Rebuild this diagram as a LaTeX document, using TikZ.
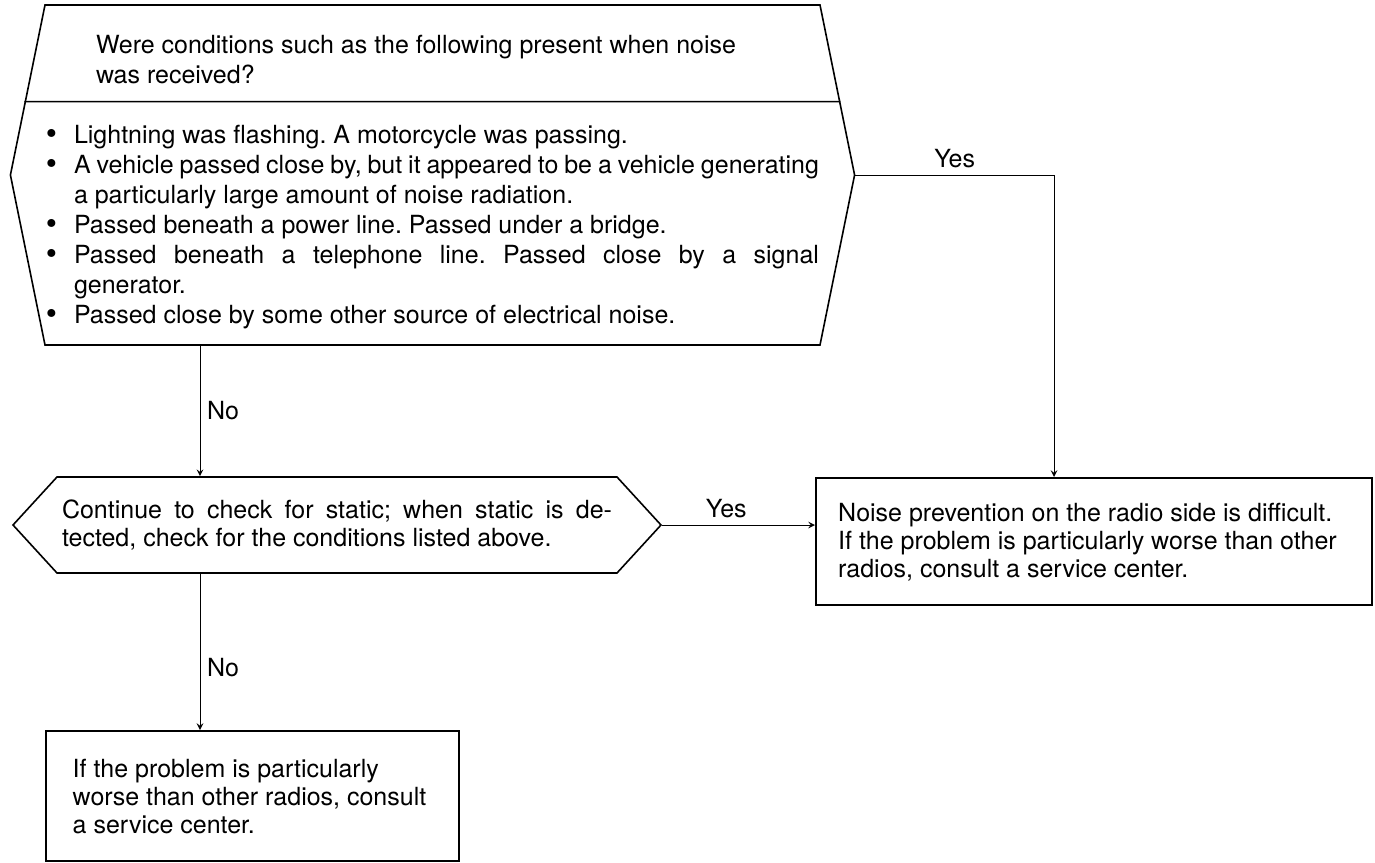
\documentclass[tikz,border=0pt]{standalone}
\usepackage{fontspec}
\setmainfont{TeX Gyre Heros}
\usetikzlibrary{shapes.symbols,arrows,calc}
\newcommand{\itembullet}{\makebox[14pt][l]{\raisebox{-0.6pt}{\fontsize{16pt}{0pt}\selectfont\textbullet}}}
\tikzstyle{decision} = [signal, signal to=east and west, draw=black, line width=0.8pt, align=flush left, inner ysep=0pt]
\tikzstyle{process} = [rectangle, draw=black, line width=1.2pt, align=flush left, anchor=north west, inner ysep=0pt]
\tikzstyle{arrow} = [line width=0.5pt,->,>=stealth]

\begin{document}
\begin{tikzpicture}[x=0.5pt, y=-0.5pt, every node/.style={font=\fontsize{12.5pt}{15pt}\selectfont\frenchspacing}]
    \useasboundingbox (0,0) rectangle (1375,862);

    \node (conditions) [decision, signal pointer angle=157, text width=386.5pt, inner xsep=0.5pt, minimum height=170pt] at (432.5,175) {
        \rule{0pt}{16pt}\hspace*{25pt}Were conditions such as the following present when noise\\
        \hspace*{25pt}was received?\\[15pt]
        \itembullet Lightning was flashing. A motorcycle was passing.\\
        \itembullet\makebox[372.5pt][s]{A vehicle passed close by, but it appeared to be a vehicle generating}\\
        \hspace*{14pt}a particularly large amount of noise radiation.\\
        \itembullet Passed beneath a power line. Passed under a bridge.\\
        \itembullet\makebox[372.5pt][s]{Passed beneath a telephone line. Passed close by a signal}\\
        \hspace*{14pt}generator.\\
        \itembullet Passed close by some other source of electrical noise.};
    \draw [line width=0.8pt] ($(conditions.west)!0.43!(conditions.north west)$) -- ($(conditions.east)!0.43!(conditions.north east)$);

    \node (continue) [decision, signal pointer angle=95, text width=275pt, inner xsep=2.5pt, minimum height=48pt, font=\fontsize{12.5pt}{14pt}\selectfont\frenchspacing] at (337,525) {
        \makebox[275pt][s]{Continue to check for static; when static is de-}\\
        tected, check for the conditions listed above.};

    \node (noiseside) [process, text width=256pt, inner xsep=11pt, minimum height=63.5pt, font=\fontsize{12.5pt}{14pt}\selectfont\frenchspacing] at (815,477) {Noise prevention on the radio side is difficult.\\ If the problem is particularly worse than other\\ radios, consult a service center.};
    \node (serviceonly) [process, text width=180pt, inner xsep=13.25pt, minimum height=65pt, font=\fontsize{12.5pt}{14pt}\selectfont\frenchspacing] at (45,730) {If the problem is particularly\\ worse than other radios, consult\\ a service center.};

    \coordinate (yesturn) at (1054,0);
    \coordinate (nocol) at (200,0);

    \draw [arrow] (conditions.east) -| node [near start, above] {Yes} (noiseside.north -| yesturn);
    \draw [arrow] (conditions.south -| nocol) -- node [right] {No} (continue.north -| nocol);
    \draw [arrow] (continue.east) -- node [pos=0.42, above] {Yes} (continue.east -| noiseside.west);
    \draw [arrow] (continue.south -| nocol) -- node [pos=0.6, right] {No} (serviceonly.north -| nocol);
\end{tikzpicture}
\end{document}
